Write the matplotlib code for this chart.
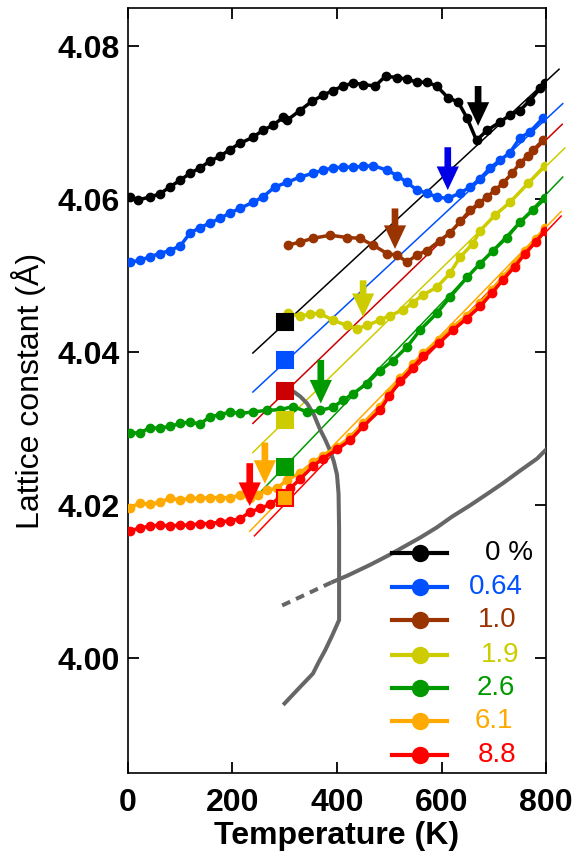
import matplotlib
matplotlib.use("Agg")
import matplotlib.pyplot as plt

plt.rcParams['font.family'] = ['Liberation Sans', 'DejaVu Sans']

# ---------------- data ----------------
T_0 = [4, 19, 42, 61, 80, 100, 119, 138, 157, 176, 195, 214, 239, 258, 278, 297, 304, 329, 352, 373,
       392, 411, 431, 450, 473, 493, 515, 534, 553, 572, 591, 612, 632, 649, 667, 687, 712, 731, 750,
       769, 789, 798]
a_0 = [4.0603, 4.0599, 4.0603, 4.0607, 4.0616, 4.0625, 4.0634, 4.0641, 4.0650, 4.0656, 4.0665, 4.0673,
       4.0681, 4.0690, 4.0697, 4.0707, 4.0703, 4.0716, 4.0728, 4.0736, 4.0742, 4.0748, 4.0752, 4.0750,
       4.0748, 4.0761, 4.0759, 4.0757, 4.0753, 4.0753, 4.0748, 4.0733, 4.0727, 4.0706, 4.0677, 4.0690,
       4.0701, 4.0710, 4.0716, 4.0729, 4.0745, 4.0752]

T_064 = [4, 23, 42, 61, 80, 100, 119, 138, 157, 176, 195, 214, 239, 258, 281, 304, 329, 354, 373, 392,
         411, 431, 450, 469, 496, 515, 534, 553, 572, 591, 612, 635, 655, 674, 693, 712, 731, 750, 769,
         794]
a_064 = [4.0518, 4.0520, 4.0525, 4.0529, 4.0533, 4.0539, 4.0556, 4.0563, 4.0569, 4.0575, 4.0582, 4.0588,
         4.0596, 4.0603, 4.0616, 4.0622, 4.0629, 4.0634, 4.0638, 4.0641, 4.0642, 4.0642, 4.0643, 4.0644,
         4.0638, 4.0631, 4.0622, 4.0612, 4.0608, 4.0603, 4.0601, 4.0608, 4.0616, 4.0627, 4.0641, 4.0651,
         4.0661, 4.0680, 4.0688, 4.0706]

T_10 = [306, 329, 354, 387, 419, 444, 469, 496, 515, 534, 553, 572, 597, 616, 636, 655, 672, 687, 703,
        718, 735, 750, 765, 775, 794]
a_10 = [4.0540, 4.0544, 4.0549, 4.0553, 4.0550, 4.0549, 4.0540, 4.0529, 4.0527, 4.0518, 4.0527, 4.0533,
        4.0546, 4.0556, 4.0571, 4.0586, 4.0595, 4.0603, 4.0612, 4.0621, 4.0634, 4.0647, 4.0657, 4.0664,
        4.0677]

T_19 = [306, 329, 348, 367, 392, 419, 438, 457, 482, 501, 526, 545, 565, 591, 616, 635, 660, 674, 702,
        731, 766, 798]
a_19 = [4.0451, 4.0447, 4.0450, 4.0451, 4.0442, 4.0435, 4.0431, 4.0435, 4.0442, 4.0448, 4.0455, 4.0465,
        4.0475, 4.0485, 4.0503, 4.0524, 4.0542, 4.0559, 4.0579, 4.0596, 4.0621, 4.0644]

T_26 = [4, 23, 42, 61, 80, 100, 119, 138, 157, 176, 195, 214, 239, 266, 291, 316, 343, 367, 392, 411,
        431, 457, 482, 507, 534, 559, 591, 616, 649, 674, 699, 725, 750, 775, 798]
a_26 = [4.0294, 4.0295, 4.0301, 4.0301, 4.0303, 4.0307, 4.0309, 4.0306, 4.0316, 4.0318, 4.0322, 4.0320,
        4.0322, 4.0324, 4.0325, 4.0329, 4.0322, 4.0324, 4.0328, 4.0337, 4.0346, 4.0359, 4.0376, 4.0389,
        4.0407, 4.0429, 4.0451, 4.0472, 4.0498, 4.0516, 4.0533, 4.0550, 4.0570, 4.0586, 4.0601]

T_61 = [4, 23, 42, 61, 80, 100, 119, 138, 157, 176, 195, 214, 233, 249, 266, 285, 304, 329, 354, 373,
        400, 425, 450, 482, 500, 521, 545, 565, 595, 622, 648, 674, 696, 718, 740, 760, 780, 798]
a_61 = [4.0197, 4.0203, 4.0201, 4.0204, 4.0209, 4.0207, 4.0209, 4.0209, 4.0210, 4.0210, 4.0210, 4.0213,
        4.0210, 4.0214, 4.0220, 4.0222, 4.0233, 4.0242, 4.0256, 4.0265, 4.0276, 4.0289, 4.0307, 4.0328,
        4.0347, 4.0366, 4.0384, 4.0399, 4.0416, 4.0433, 4.0448, 4.0464, 4.0481, 4.0499, 4.0516, 4.0533,
        4.0548, 4.0562]

T_88 = [4, 23, 42, 61, 80, 100, 119, 138, 157, 176, 195, 214, 233, 253, 272, 291, 310, 329, 354, 373,
        400, 425, 450, 482, 500, 521, 545, 565, 595, 622, 648, 674, 696, 718, 740, 760, 780, 798]
a_88 = [4.0167, 4.0170, 4.0173, 4.0174, 4.0173, 4.0174, 4.0174, 4.0176, 4.0176, 4.0178, 4.0180, 4.0182,
        4.0191, 4.0196, 4.0201, 4.0210, 4.0222, 4.0234, 4.0251, 4.0261, 4.0273, 4.0285, 4.0303, 4.0324,
        4.0343, 4.0362, 4.0380, 4.0395, 4.0412, 4.0429, 4.0444, 4.0460, 4.0477, 4.0495, 4.0512, 4.0529,
        4.0544, 4.0559]

series_labels = ["0 %", "0.64", "1.0", "1.9", "2.6", "6.1", "8.8"]
series_T = [T_0, T_064, T_10, T_19, T_26, T_61, T_88]
series_a = [a_0, a_064, a_10, a_19, a_26, a_61, a_88]

# linear high-temperature fits (end points)
fit_T0 = [239, 239, 239, 239, 239, 233, 242]
fit_a0 = [4.0399, 4.0348, 4.0307, 4.0269, 4.0207, 4.0166, 4.0160]
fit_T1 = [825, 832, 831, 836, 832, 829, 829]
fit_a1 = [4.0770, 4.0725, 4.0698, 4.0667, 4.0629, 4.0584, 4.0578]

# room-temperature squares
sq_T = [300, 300, 300, 300, 300, 300]
sq_a = [4.0439, 4.0390, 4.0349, 4.0311, 4.0250, 4.0210]

# transition arrows (T, top, tip)
arr_T = [670, 612, 511, 450, 369, 262, 233]
arr_top = [4.0748, 4.0668, 4.0588, 4.0494, 4.0390, 4.0282, 4.0255]
arr_tip = [4.0696, 4.0612, 4.0535, 4.0446, 4.0333, 4.0228, 4.0199]

# grey guide curves
g1_T = [300, 316, 330, 343, 356, 367, 378, 387, 394, 400, 403, 404, 404, 391, 377, 365, 354, 326, 297]
g1_a = [4.0352, 4.0349, 4.0342, 4.0333, 4.0318, 4.0300, 4.0285, 4.0271, 4.0257, 4.0240, 4.0215,
        4.0170, 4.0050, 4.0030, 4.0010, 3.9995, 3.9980, 3.9960, 3.9939]
g2d_T = [295, 389]
g2d_a = [4.0069, 4.0099]
g2_T = [389, 420, 463, 500, 526, 560, 591, 620, 655, 690, 718, 750, 783, 802]
g2_a = [4.0099, 4.0108, 4.0122, 4.0135, 4.0145, 4.0158, 4.0171, 4.0185, 4.0200, 4.0216, 4.0229,
        4.0245, 4.0261, 4.0274]

xticks = [0, 200, 400, 600, 800]
yticks = [4.00, 4.02, 4.04, 4.06, 4.08]
ytick_labels = ["4.00", "4.02", "4.04", "4.06", "4.08"]

# ---------------- styles ----------------
data_colors = ['#000000', '#0050FF', '#993300', '#CCCC00', '#009900', '#FFAA00', '#FF0000']
fit_colors = ['#000000', '#0050FF', '#CC0000', '#CCCC00', '#009900', '#FFAA00', '#FF0000']
sq_face = ['#000000', '#0050FF', '#CC0000', '#CCCC00', '#009900', '#FFAA00']
sq_edge = ['#000000', '#0050FF', '#CC0000', '#CCCC00', '#009900', '#FF0000']
arr_colors = ['#000000', '#0000E6', '#993300', '#CCCC00', '#009900', '#FFAA00', '#FF0000']
grey = '#666666'

fig = plt.figure(figsize=(5.77, 8.61), dpi=100)
ax = fig.add_axes([0.2218, 0.1022, 0.7245, 0.8885])

# fits
for t0, a0, t1, a1, c in zip(fit_T0, fit_a0, fit_T1, fit_a1, fit_colors):
    ax.plot([t0, t1], [a0, a1], color=c, lw=1.1, zorder=2, clip_on=False)

# grey curves
ax.plot(g1_T, g1_a, color=grey, lw=2.9, zorder=3, solid_capstyle='butt', solid_joinstyle='round')
ax.plot(g2d_T, g2d_a, color=grey, lw=2.9, zorder=3, ls=(0, (2.2, 1.6)))
ax.plot(g2_T, g2_a, color=grey, lw=2.9, zorder=3, solid_capstyle='butt', solid_joinstyle='round')

# data
for T, a, c in zip(series_T, series_a, data_colors):
    ax.plot(T, a, '-o', color=c, lw=2.5, ms=6, mec=c, zorder=4)

# squares
for t, a, fc, ec in zip(sq_T, sq_a, sq_face, sq_edge):
    ax.plot([t], [a], 's', ms=11, mfc=fc, mec=ec, mew=1.5, zorder=6)

# arrows
for t, top, tip, c in zip(arr_T, arr_top, arr_tip, arr_colors):
    ax.annotate('', xy=(t, tip), xytext=(t, top),
                arrowprops=dict(arrowstyle='simple,head_length=0.85,head_width=0.8,tail_width=0.24',
                                color=c, mutation_scale=20, shrinkA=0, shrinkB=0, lw=0),
                zorder=7)

# legend (manual)
leg_y = [(773 - y) / 765 for y in [553, 587, 620, 655, 688, 721, 755]]
leg_tx = [(x - 128) / 418 for x in [509, 496, 497, 500, 496, 494, 497]]
for lab, c, yy, tx in zip(series_labels, data_colors, leg_y, leg_tx):
    ax.plot([0.6316, 0.7632], [yy, yy], color=c, lw=3, transform=ax.transAxes, zorder=8)
    ax.plot([0.6986], [yy], 'o', color=c, ms=11.5, transform=ax.transAxes, zorder=8)
    ax.text(tx, yy, lab, color=c, fontsize=20, ha='center', va='center',
            transform=ax.transAxes, zorder=8)

ax.set_xlim(0, 800)
ax.set_ylim(3.985, 4.085)
ax.set_xticks(xticks)
ax.set_yticks(yticks)
ax.set_yticklabels(ytick_labels)
ax.tick_params(direction='in', top=True, right=True, length=8, width=1.3,
               labelsize=23, pad=6)
ax.tick_params(axis='x', pad=11)
for lbl in ax.get_xticklabels() + ax.get_yticklabels():
    lbl.set_fontweight('bold')
for s in ax.spines.values():
    s.set_linewidth(1.2)

ax.set_xlabel('Temperature (K)', fontsize=23, fontweight='bold', labelpad=2)
ax.set_ylabel('Lattice constant (Å)', fontsize=23, labelpad=8)

fig.savefig('out.png', dpi=100)
